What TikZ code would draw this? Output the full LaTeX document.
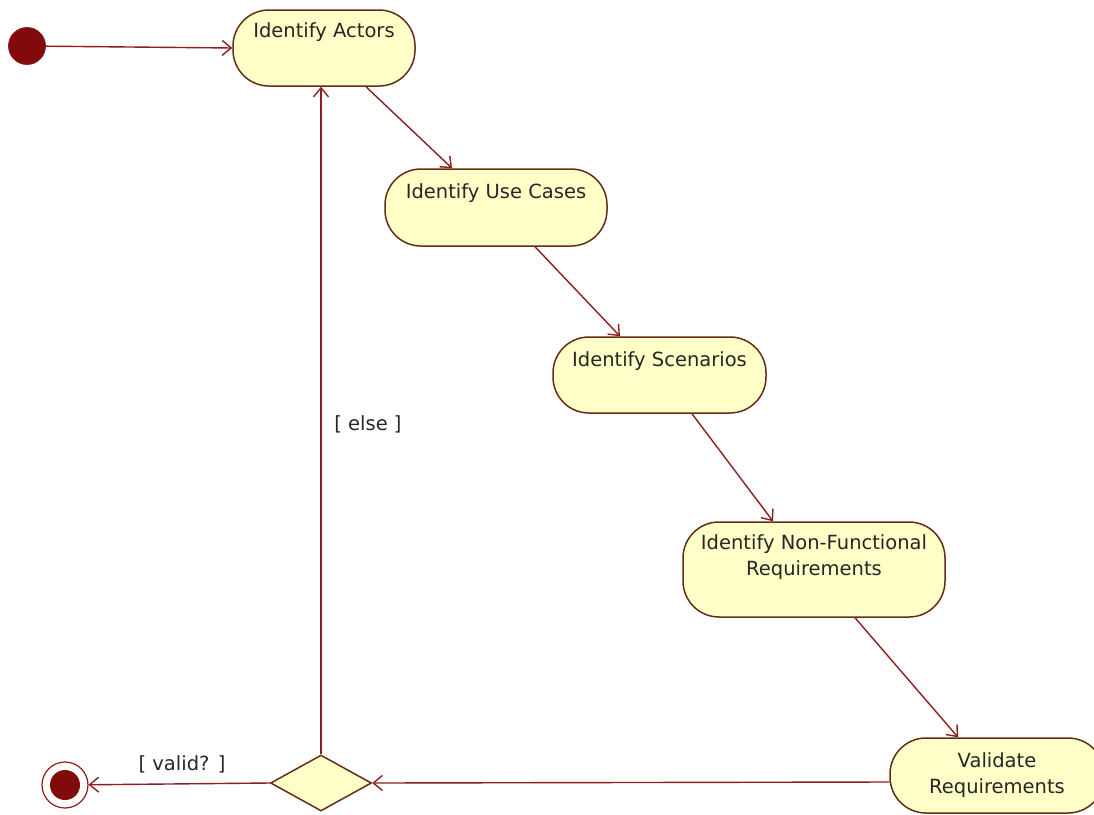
\documentclass[tikz,border=0pt]{standalone}
\usepackage{fontspec}
\setmainfont{DejaVu Sans}
\usetikzlibrary{arrows.meta,shapes.geometric,calc}
\definecolor{edge}{RGB}{140,30,30}
\definecolor{border}{RGB}{100,45,25}
\definecolor{actfill}{RGB}{255,255,200}
\definecolor{dotred}{RGB}{130,10,10}
\begin{document}
\begin{tikzpicture}[x=1pt,y=-1pt,
  act/.style={draw=border,fill=actfill,line width=1.5pt,rounded corners=36pt,inner sep=0pt},
  lbl/.style={font=\fontsize{19.5}{26}\selectfont,text=black!85,align=center,inner sep=0pt},
  flow/.style={draw=edge,line width=1.4pt,-{Straight Barb[length=9pt,width=15pt,line width=1.4pt]}},
  guard/.style={font=\fontsize{19.5}{24}\selectfont,text=black!85,inner sep=0pt}]
\useasboundingbox (0,0) rectangle (1094,814);
% activity boxes
\node[act,minimum width=182pt,minimum height=76pt] (actors) at (324,48) {};
\node[lbl] (tactors) at (324,32) {Identify Actors};
\node[act,minimum width=222pt,minimum height=77pt] (usecases) at (496,207.5) {};
\node[lbl] (tusecases) at (496,193) {Identify Use Cases};
\node[act,minimum width=213pt,minimum height=76pt] (scen) at (659.5,375) {};
\node[lbl] (tscen) at (659.5,361) {Identify Scenarios};
\node[act,minimum width=262pt,minimum height=95pt] (nfr) at (814,569.5) {};
\node[lbl] (tnfr) at (814,557.5) {Identify Non-Functional\\Requirements};
\node[act,minimum width=214pt,minimum height=75pt] (valid) at (997,775.5) {};
\node[lbl] (tvalid) at (997,775) {Validate\\Requirements};
% start / end / decision
\node[circle,fill=dotred,draw=edge,line width=0.8pt,minimum size=37pt,inner sep=0pt] (start) at (27,46) {};
\node[circle,draw=edge,line width=1.2pt,fill=white,minimum size=46pt,inner sep=0pt] (final) at (65,785) {};
\node[circle,fill=dotred,minimum size=30pt,inner sep=0pt] (finalin) at (65,785) {};
\node[diamond,draw=border,fill=actfill,line width=1.5pt,minimum width=101pt,minimum height=56pt,inner sep=0pt,aspect=1.8] (dec) at (321,783) {};
% connection points
\coordinate (a1) at ($(actors.south)+(42,0)$);
\coordinate (u0) at ($(usecases.north)+(-44,0)$);
\coordinate (u1) at ($(usecases.south)+(39,0)$);
\coordinate (s0) at ($(scen.north)+(-39.5,0)$);
\coordinate (s1) at ($(scen.south)+(32.5,0)$);
\coordinate (n0) at ($(nfr.north)+(-41,0)$);
\coordinate (n1) at ($(nfr.south)+(41,0)$);
\coordinate (v0) at ($(valid.north)+(-39,0)$);
\coordinate (v1) at ($(valid.west)+(0,6.5)$);
\coordinate (aback) at ($(actors.south)+(-3,0)$);
% flows
\draw[flow] (start) -- (actors.west);
\draw[flow] (a1) -- (u0);
\draw[flow] (u1) -- (s0);
\draw[flow] (s1) -- (n0);
\draw[flow] (n1) -- (v0);
\draw[flow] (v1) -- (dec.east);
\draw[flow] (dec.west) -- (final);
\draw[flow] (dec.north) -- (aback);
% guards
\node[guard] (gvalid) at (182,764) {[ valid? ]};
\node[guard] (gelse) at (368,424) {[ else ]};
\end{tikzpicture}
\end{document}
